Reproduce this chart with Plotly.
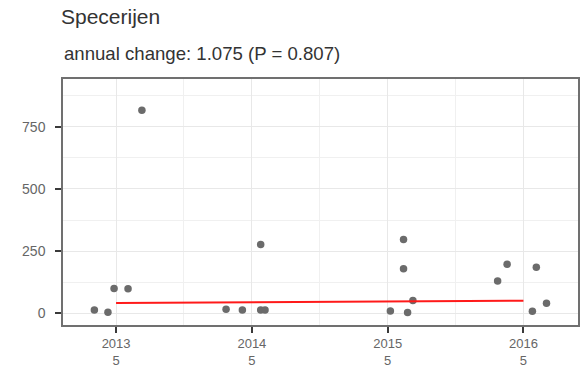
import plotly.graph_objects as go

# Observations: decimal year of sampling and measured value
obs_time = [2012.84, 2012.94, 2012.985, 2013.088, 2013.19,
            2013.81, 2013.93, 2014.065, 2014.065, 2014.097,
            2015.02, 2015.117, 2015.117, 2015.147, 2015.186,
            2015.81, 2015.88, 2016.066, 2016.095, 2016.17]
obs_value = [13, 4, 100, 99, 816,
             16, 13, 277, 13, 13,
             9, 297, 179, 3, 52,
             130, 197, 8, 185, 40]

# Fitted trend (annual change 1.075)
trend_years = [2013, 2014, 2015, 2016]
trend_value = [41, 44.1, 47.4, 50.9]

# Axis ticks
x_ticks = [2013, 2014, 2015, 2016]
x_ticktext = ["2013<br>5", "2014<br>5", "2015<br>5", "2016<br>5"]
x_minor = [2013.5, 2014.5, 2015.5]
y_ticks = [0, 250, 500, 750]
y_minor = [125, 375, 625, 875]

title_text = "Specerijen"
subtitle_text = "annual change: 1.075 (P = 0.807)"

FONT = "Liberation Sans, Arial, Helvetica, sans-serif"

fig = go.Figure()
fig.add_trace(go.Scatter(
    x=obs_time, y=obs_value, mode="markers",
    marker=dict(color="#6b6b6b", size=7.5, line=dict(width=0)),
    showlegend=False, hoverinfo="x+y",
))
fig.add_trace(go.Scatter(
    x=trend_years, y=trend_value, mode="lines",
    line=dict(color="#ff1a1a", width=2),
    showlegend=False,
))

axis_common = dict(
    showline=True, linecolor="#707070", linewidth=1.5, mirror=True,
    ticks="outside", ticklen=6, tickwidth=1.5, tickcolor="#3a3a3a",
    showgrid=True, gridcolor="#e8e8e8", gridwidth=1,
    zeroline=False, automargin=False,
)

fig.update_layout(
    width=580, height=368,
    margin=dict(l=63, r=2, t=79, b=43),
    paper_bgcolor="white", plot_bgcolor="white",
    font=dict(family=FONT),
    title=dict(
        text=title_text, x=61 / 580, xanchor="left", xref="container",
        y=1 - 17 / 368, yanchor="middle", yref="container",
        font=dict(family=FONT, size=21, color="#333333"),
    ),
    xaxis=dict(
        range=[2012.609, 2016.402],
        tickvals=x_ticks, ticktext=x_ticktext,
        ticklabelstandoff=0,
        tickfont=dict(family=FONT, size=13, color="#666666"),
        minor=dict(tickvals=x_minor, showgrid=True, gridcolor="#f0f0f0",
                   gridwidth=1, ticks=""),
        **axis_common,
    ),
    yaxis=dict(
        range=[-47, 942],
        tickvals=y_ticks,
        ticklabelstandoff=7,
        tickfont=dict(family=FONT, size=14, color="#666666"),
        minor=dict(tickvals=y_minor, showgrid=True, gridcolor="#f0f0f0",
                   gridwidth=1, ticks=""),
        **axis_common,
    ),
    annotations=[dict(
        text=subtitle_text, xref="paper", yref="paper",
        x=0, xanchor="left", xshift=-1,
        y=(325 - 53.5) / 246, yanchor="middle",
        showarrow=False,
        font=dict(family=FONT, size=18.6, color="#333333"),
    )],
)

fig.write_html("out.html")
